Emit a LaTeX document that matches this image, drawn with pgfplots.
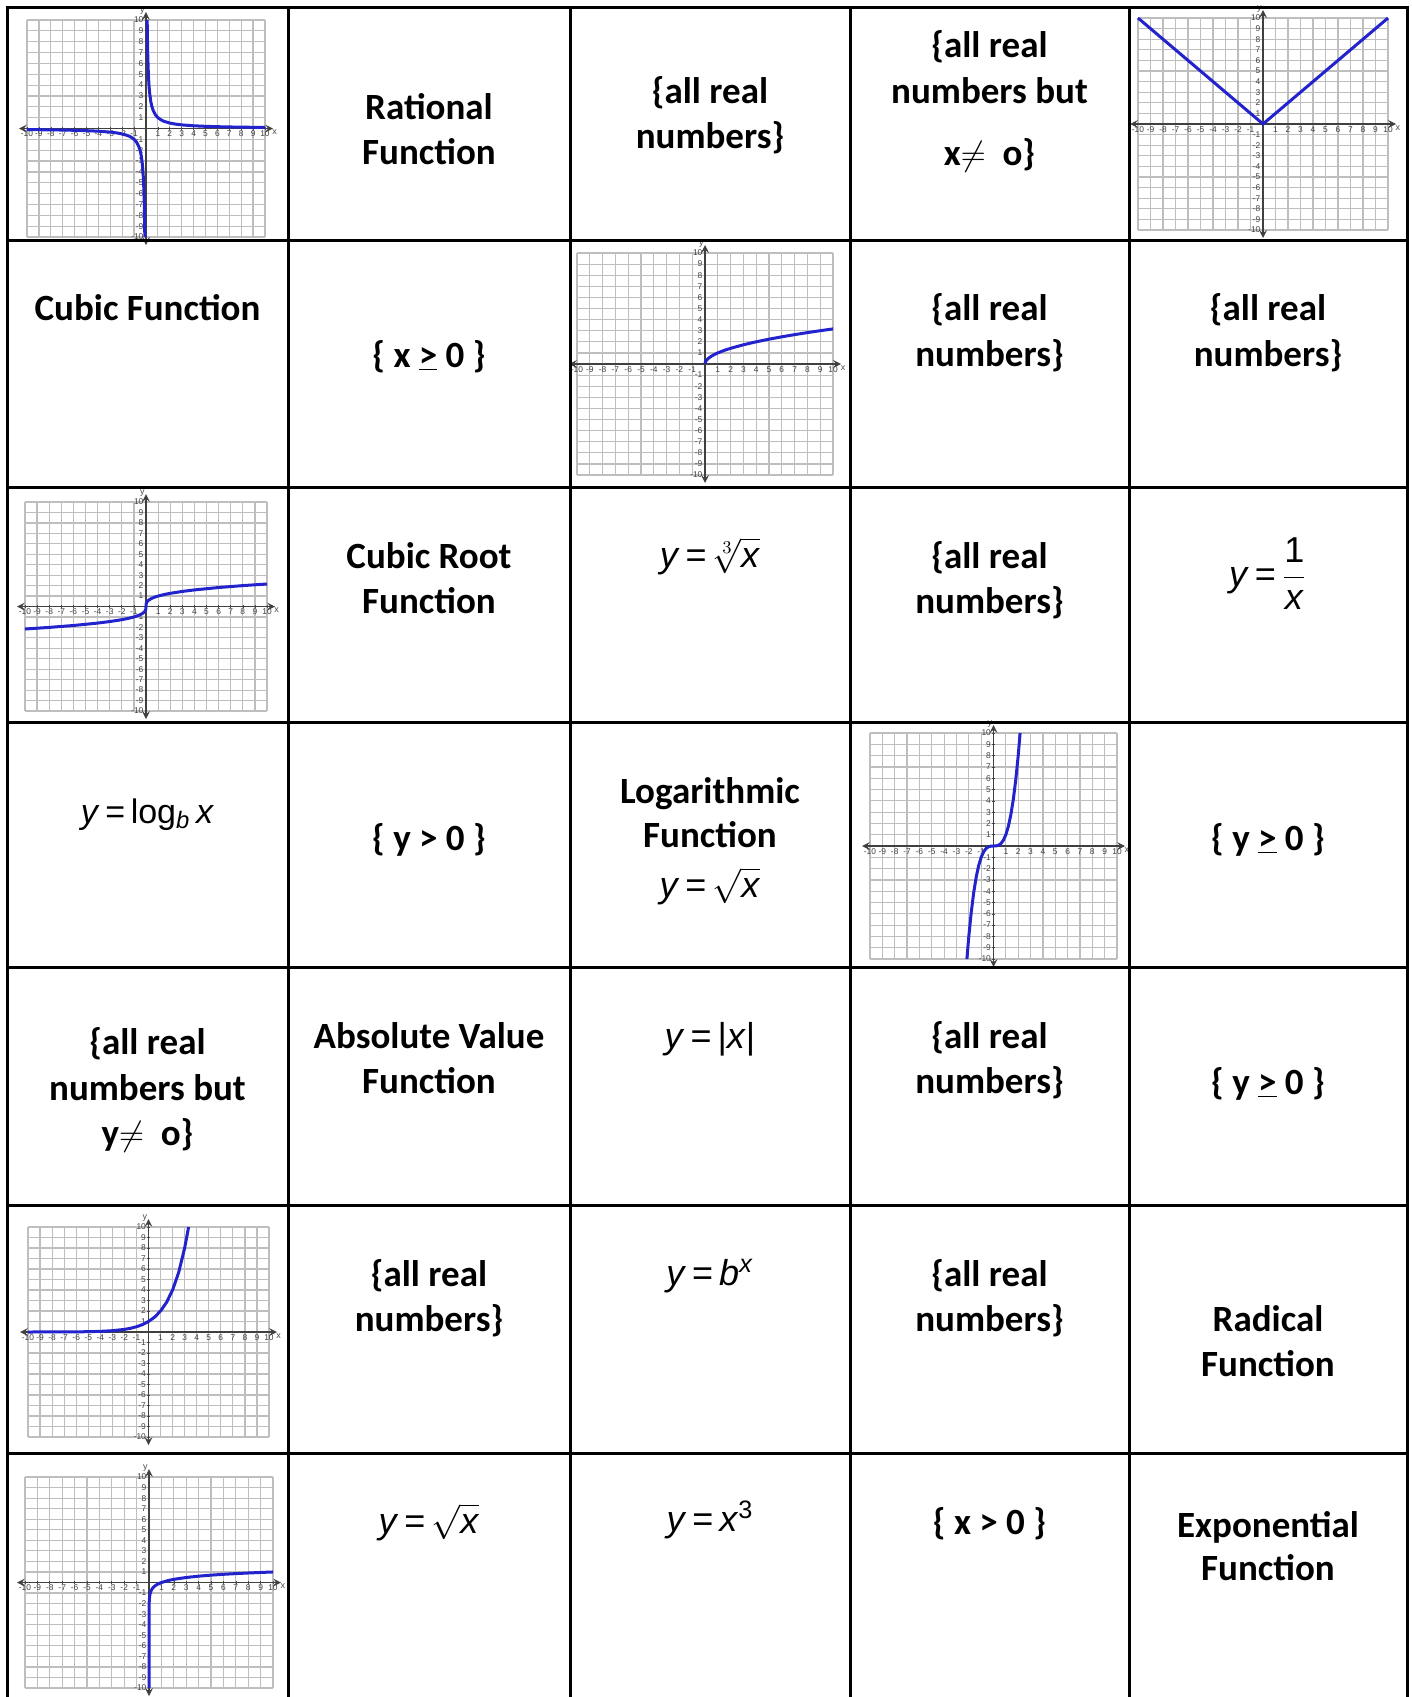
\documentclass[border=0pt]{standalone}
\usepackage{fontspec}
\setmainfont{Carlito}
\newfontfamily\ar{Liberation Sans}
\usepackage{pgfplots}
\pgfplotsset{compat=1.18}
\definecolor{cblue}{RGB}{35,35,205}
\definecolor{gridgray}{RGB}{190,190,190}
\pgfplotsset{mini/.style={
  scale only axis, anchor=north west, axis lines=middle,
  xmin=-10,xmax=10,ymin=-10,ymax=10,
  xtick={-10,-9,-8,-7,-6,-5,-4,-3,-2,-1,1,2,3,4,5,6,7,8,9,10},
  ytick={-10,-9,-8,-7,-6,-5,-4,-3,-2,-1,1,2,3,4,5,6,7,8,9,10},
  grid=major, grid style={gridgray, line width=0.6pt},
  axis line style={black!75, line width=0.7pt, stealth-stealth, shorten >=-4pt, shorten <=-4pt},
  /pgf/number format/assume math mode=true,
  tick label style={font=\fontsize{4.2}{4.5}\selectfont\ar, text=black!75, inner sep=0.5pt},
  major tick length=1.2pt, tick style={black!70, line width=0.3pt},
  xlabel={x}, ylabel={y},
  x label style={at={(axis description cs:1.025,0.5)}, anchor=north west, font=\fontsize{4.5}{4.5}\selectfont\ar, inner sep=0.5pt, text=black!70},
  y label style={at={(axis description cs:0.5,1.02)}, anchor=south east, font=\fontsize{4.5}{4.5}\selectfont\ar, inner sep=0.5pt, text=black!70},
  clip=false},
  curve/.style={cblue, line width=1.5pt, mark=none}}
\newcommand\T[3]{\node[anchor=base, inner sep=0pt, font=\bfseries\fontsize{18.5}{22}\selectfont] at (#1,#2) {#3};}
\newcommand\F[4][18]{\node[anchor=base, inner sep=0pt, font=\ar\fontsize{#1}{22}\selectfont] at (#2,#3) {#4};}
\begin{document}
\begin{tikzpicture}
\path[use as bounding box] (0,0) rectangle (706pt,-848.5pt);
% ---- graphs ----
\begin{axis}[mini, at={(13.5pt,-10pt)}, width=119pt, height=108.5pt]
\addplot[curve] coordinates {(0.1,10)(0.12,8.333)(0.15,6.667)(0.2,5)(0.25,4)(0.3,3.333)(0.4,2.5)(0.5,2)(0.6,1.667)(0.8,1.25)(1,1)(1.25,0.8)(1.5,0.667)(2,0.5)(2.5,0.4)(3,0.333)(4,0.25)(5,0.2)(6,0.167)(7,0.143)(8,0.125)(9,0.111)(10,0.1)};
\addplot[curve] coordinates {(-0.1,-10)(-0.12,-8.333)(-0.15,-6.667)(-0.2,-5)(-0.25,-4)(-0.3,-3.333)(-0.4,-2.5)(-0.5,-2)(-0.6,-1.667)(-0.8,-1.25)(-1,-1)(-1.25,-0.8)(-1.5,-0.667)(-2,-0.5)(-2.5,-0.4)(-3,-0.333)(-4,-0.25)(-5,-0.2)(-6,-0.167)(-7,-0.143)(-8,-0.125)(-9,-0.111)(-10,-0.1)};
\end{axis}
\begin{axis}[mini, at={(569pt,-9pt)}, width=125pt, height=106pt]
\addplot[curve] coordinates {(-10,10)(0,0)(10,10)};
\end{axis}
\begin{axis}[mini, at={(288.5pt,-126.5pt)}, width=128pt, height=111pt]
\addplot[curve] coordinates {(0,0)(0.01,0.1)(0.04,0.2)(0.09,0.3)(0.16,0.4)(0.25,0.5)(0.5,0.707)(0.75,0.866)(1,1)(1.5,1.225)(2,1.414)(3,1.732)(4,2)(5,2.236)(6,2.449)(7,2.646)(8,2.828)(9,3)(10,3.162)};
\end{axis}
\begin{axis}[mini, at={(12.5pt,-251pt)}, width=121pt, height=104.5pt]
\addplot[curve] coordinates {(-10,-2.154)(-8,-2)(-6,-1.817)(-4,-1.587)(-3,-1.442)(-2,-1.26)(-1.5,-1.145)(-1,-1)(-0.7,-0.888)(-0.5,-0.794)(-0.3,-0.669)(-0.2,-0.585)(-0.1,-0.464)(-0.05,-0.368)(-0.02,-0.271)(-0.005,-0.171)(0,0)(0.005,0.171)(0.02,0.271)(0.05,0.368)(0.1,0.464)(0.2,0.585)(0.3,0.669)(0.5,0.794)(0.7,0.888)(1,1)(1.5,1.145)(2,1.26)(3,1.442)(4,1.587)(6,1.817)(8,2)(10,2.154)};
\end{axis}
\begin{axis}[mini, at={(435pt,-366.5pt)}, width=123.5pt, height=113pt]
\addplot[curve] coordinates {(-2.154,-10)(-2,-8)(-1.8,-5.832)(-1.6,-4.096)(-1.4,-2.744)(-1.2,-1.728)(-1,-1)(-0.8,-0.512)(-0.6,-0.216)(-0.4,-0.064)(-0.2,-0.008)(0,0)(0.2,0.008)(0.4,0.064)(0.6,0.216)(0.8,0.512)(1,1)(1.2,1.728)(1.4,2.744)(1.6,4.096)(1.8,5.832)(2,8)(2.154,10)};
\end{axis}
\begin{axis}[mini, at={(14pt,-613.5pt)}, width=120.5pt, height=105pt]
\addplot[curve] coordinates {(-10,0.001)(-8,0.0039)(-6,0.0156)(-5,0.03125)(-4,0.0625)(-3,0.125)(-2,0.25)(-1.5,0.354)(-1,0.5)(-0.5,0.707)(0,1)(0.5,1.414)(1,2)(1.5,2.828)(2,4)(2.5,5.657)(3,8)(3.25,9.514)(3.322,10)};
\end{axis}
\begin{axis}[mini, at={(12.5pt,-738.5pt)}, width=124pt, height=105.5pt]
\addplot[curve] coordinates {(0.0000000001,-10)(0.000001,-6)(0.001,-3)(0.01,-2)(0.05,-1.301)(0.1,-1)(0.2,-0.699)(0.3,-0.523)(0.5,-0.301)(0.7,-0.155)(1,0)(1.5,0.176)(2,0.301)(3,0.477)(4,0.602)(5,0.699)(6,0.778)(7,0.845)(8,0.903)(9,0.954)(10,1)};
\end{axis}
% ---- table ----
\begin{scope}[x=0.5pt,y=-0.5pt]
\draw[line width=1.5pt] (7,1697) -- (7,7) -- (1407,7) -- (1407,1697);
\foreach \c in {288,570,850,1129} \draw[line width=1.5pt] (\c,7) -- (\c,1697);
\foreach \r in {240,487,722,967,1205,1453} \draw[line width=1.5pt] (7,\r) -- (1407,\r);
% row 1
\T{429}{119}{Rational}
\T{429}{164}{Function}
\T{710}{103}{\{all real}
\T{710}{148}{numbers\}}
\T{989.5}{57}{\{all real}
\T{989.5}{103}{numbers but}
\T{989.5}{165}{x$\neq$\ \ o\}}
% row 2
\T{147.5}{320}{Cubic Function}
\T{429}{367}{\{ x \underline{>} 0 \}}
\T{989.5}{320}{\{all real}
\T{989.5}{366}{numbers\}}
\T{1268}{320}{\{all real}
\T{1268}{366}{numbers\}}
% row 3
\T{429}{568}{Cubic Root}
\T{429}{613}{Function}
\F{710}{567}{\textit{y}\,=\,$\sqrt[3]{\mbox{\textit{x}}}$}
\T{989.5}{568}{\{all real}
\T{989.5}{613}{numbers\}}
\F{1268}{586}{\textit{y}\,=\,$\displaystyle\frac{\mbox{1}}{\mbox{\textit{x}}}$}
% row 4
\F[17]{147.5}{823}{\textit{y}\,=\,log\textsubscript{\textit{b}}\,\textit{x}}
\T{429}{850}{\{ y > 0 \}}
\T{710}{803}{Logarithmic}
\T{710}{847}{Function}
\F{710}{897}{\textit{y}\,=\,$\sqrt{\mbox{\textit{x}}}$}
\T{1268}{850}{\{ y \underline{>} 0 \}}
% row 5
\T{147.5}{1054}{\{all real}
\T{147.5}{1100}{numbers but}
\T{147.5}{1145}{y$\neq$\ \ o\}}
\T{429}{1048}{Absolute Value}
\T{429}{1093}{Function}
\F{710}{1048}{\textit{y}\,=\,|\textit{x}|}
\T{989.5}{1048}{\{all real}
\T{989.5}{1093}{numbers\}}
\T{1268}{1094}{\{ y \underline{>} 0 \}}
% row 6
\T{429}{1286}{\{all real}
\T{429}{1331}{numbers\}}
\F{710}{1285}{\textit{y}\,=\,\textit{b}\textsuperscript{\textit{x}}}
\T{989.5}{1286}{\{all real}
\T{989.5}{1331}{numbers\}}
\T{1268}{1331}{Radical}
\T{1268}{1376}{Function}
% row 7
\F{429}{1533}{\textit{y}\,=\,$\sqrt{\mbox{\textit{x}}}$}
\F{710}{1531}{\textit{y}\,=\,\textit{x}\textsuperscript{3}}
\T{989.5}{1534}{\{ x > 0 \}}
\T{1268}{1537}{Exponential}
\T{1268}{1580}{Function}
\end{scope}
\end{tikzpicture}
\end{document}
